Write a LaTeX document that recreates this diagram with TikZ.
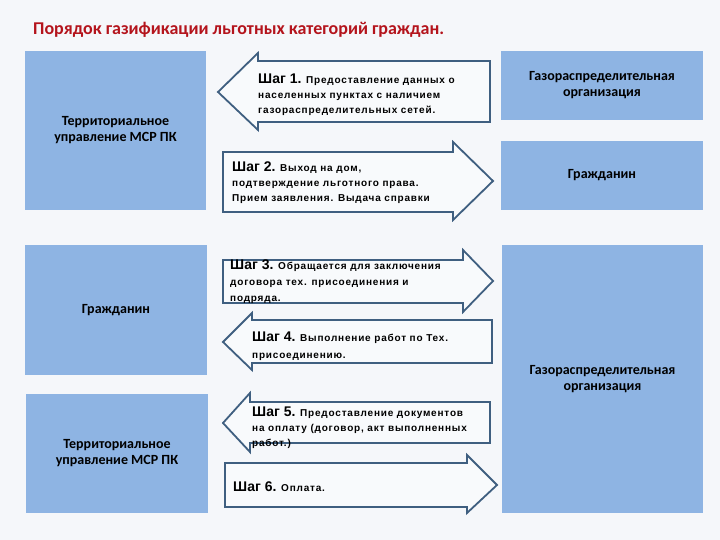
\documentclass[tikz,border=0pt]{standalone}
\usepackage{fontspec}
\setmainfont{Carlito}
\newfontfamily\arialfont{Liberation Sans}
\newfontfamily\arialwide[LetterSpace=8]{Liberation Sans}
\usepackage{tikz}
\usetikzlibrary{positioning}
\definecolor{bgcol}{RGB}{245,247,250}
\definecolor{boxblue}{RGB}{142,180,227}
\definecolor{arrowline}{RGB}{63,95,128}
\definecolor{arrowfill}{RGB}{248,250,252}
\definecolor{titlered}{RGB}{180,20,28}
\tikzstyle{box} = [rectangle, fill=boxblue, text centered, align=center, font=\bfseries\fontsize{14}{16}\selectfont, inner sep=0pt]
\tikzstyle{steparrow} = [draw=arrowline, fill=arrowfill, line width=1.8pt, line join=miter]
\tikzstyle{steptext} = [anchor=north west, align=left, inner sep=0pt, font=\arialwide\bfseries\fontsize{10}{15}\selectfont]
\newcommand{\shag}[1]{{\arialfont\fontsize{14}{15}\selectfont Шаг #1.}}

\begin{document}
\begin{tikzpicture}[x=1pt, y=-1pt]
  \fill [bgcol] (0,0) rectangle (720,540);
  \useasboundingbox (0,0) rectangle (720,540);
  %заголовок
  \node (title) [anchor=base west, inner sep=0pt, text=titlered, font=\bfseries\fontsize{18}{22}\selectfont] at (33,35) {Порядок газификации льготных категорий граждан.};

  %блоки слева
  \node (terr1) [box, minimum width=181pt, minimum height=159pt] at (115.5,130.5) {Территориальное\\управление МСР ПК};
  \node (citizen1) [box, minimum width=182pt, minimum height=130pt] at (116,310) {Гражданин};
  \node (terr2) [box, minimum width=182pt, minimum height=119pt] at (117,453.5) {Территориальное\\управление МСР ПК};
  %блоки справа
  \node (gas1) [box, minimum width=202pt, minimum height=69pt] at (602,85.5) {Газораспределительная\\организация};
  \node (citizen2) [box, minimum width=202pt, minimum height=69pt] at (602,175.5) {Гражданин};
  \node (gas2) [box, minimum width=201pt, minimum height=268pt] at (602.5,379) {Газораспределительная\\организация};

  %стрелки
  \draw [steparrow] (490,61) -- (258,61) -- (258,53) -- (218,92) -- (258,130) -- (258,122) -- (490,122) -- cycle;
  \draw [steparrow] (223,152) -- (453,152) -- (453,142) -- (493,181) -- (453,220) -- (453,212) -- (223,212) -- cycle;
  \draw [steparrow] (223,260) -- (463,260) -- (463,250) -- (493,281) -- (463,312) -- (463,303) -- (223,303) -- cycle;
  \draw [steparrow] (492,320) -- (252,320) -- (252,313) -- (223,342) -- (252,370) -- (252,363) -- (492,363) -- cycle;
  \draw [steparrow] (490,402) -- (250,402) -- (250,393) -- (223,423) -- (250,452) -- (250,443) -- (490,443) -- cycle;
  \draw [steparrow] (225,463) -- (467,463) -- (467,455) -- (497,485) -- (467,513) -- (467,507) -- (225,507) -- cycle;

  %подписи шагов
  \node (step1) [steptext] at (258,74) {\shag{1} Предоставление данных о\\населенных пунктах с наличием\\газораспределительных сетей.};
  \node (step2) [steptext] at (232,162) {\shag{2} Выход на дом,\\подтверждение льготного права.\\Прием заявления. Выдача справки};
  \node (step3) [steptext, font=\arialwide\bfseries\fontsize{10}{16}\selectfont] at (230,260) {\shag{3} Обращается для заключения\\договора тех. присоединения и\\подряда.};
  \node (step4) [steptext, font=\arialwide\bfseries\fontsize{10}{17}\selectfont] at (252,332) {\shag{4} Выполнение работ по Тех.\\присоединению.};
  \node (step5) [steptext, font=\arialwide\bfseries\fontsize{10}{15}\selectfont] at (252,407) {\shag{5} Предоставление документов\\на оплату (договор, акт выполненных\\работ.)};
  \node (step6) [steptext] at (233,482) {\shag{6} Оплата.};
\end{tikzpicture}
\end{document}
